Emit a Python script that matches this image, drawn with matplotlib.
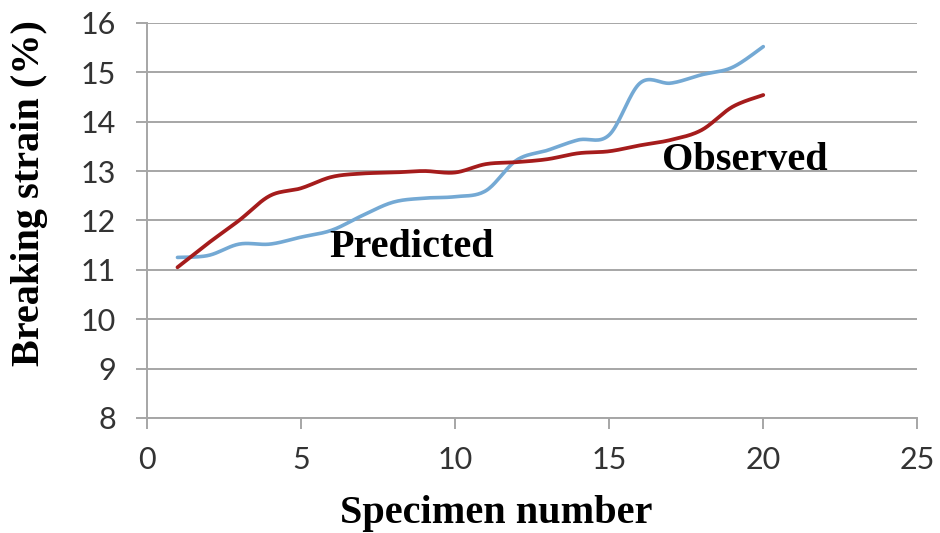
import numpy as np
import matplotlib
matplotlib.use("Agg")
import matplotlib.pyplot as plt

# data
specimen = list(range(1, 21))
observed = [11.05, 11.54, 12.0, 12.5, 12.65, 12.88, 12.95, 12.97, 13.0, 12.97,
            13.14, 13.18, 13.24, 13.36, 13.4, 13.52, 13.63, 13.83, 14.3, 14.54]
predicted = [11.25, 11.29, 11.52, 11.52, 11.66, 11.8, 12.1, 12.37, 12.45, 12.48,
             12.6, 13.22, 13.42, 13.63, 13.73, 14.78, 14.78, 14.95, 15.1, 15.52]
x_ticks = [0, 5, 10, 15, 20, 25]
y_ticks = [8, 9, 10, 11, 12, 13, 14, 15, 16]


def smooth(x, y, n=20):
    # Catmull-Rom curve through the points (like Excel "smoothed line")
    x = np.asarray(x, float)
    y = np.asarray(y, float)
    px = np.concatenate([[x[0]], x, [x[-1]]])
    py = np.concatenate([[y[0]], y, [y[-1]]])
    xs, ys = [], []
    t = np.linspace(0, 1, n, endpoint=False)
    for i in range(1, len(px) - 2):
        for arr, out in ((px, xs), (py, ys)):
            p0, p1, p2, p3 = arr[i - 1], arr[i], arr[i + 1], arr[i + 2]
            out.extend(0.5 * (2 * p1 + (-p0 + p2) * t
                              + (2 * p0 - 5 * p1 + 4 * p2 - p3) * t ** 2
                              + (-p0 + 3 * p1 - 3 * p2 + p3) * t ** 3))
    xs.append(x[-1])
    ys.append(y[-1])
    return np.array(xs), np.array(ys)


fig = plt.figure(figsize=(9.4, 5.33), dpi=100)
ax = fig.add_axes([0.156, 0.216, 0.82, 0.741])

grid_col = "#A6A6A6"
for v in y_ticks:
    ax.axhline(v, color=grid_col, lw=1.4, zorder=1)

sx, sy = smooth(specimen, predicted)
ax.plot(sx, sy, color="#74A9D4", lw=2.6, zorder=3, solid_capstyle="round")
sx, sy = smooth(specimen, observed)
ax.plot(sx, sy, color="#A51C1C", lw=2.7, zorder=3, solid_capstyle="round")

ax.set_xlim(0, 25)
ax.set_ylim(8, 16)
ax.set_xticks(x_ticks)
ax.set_yticks(y_ticks)

for s in ["top", "right"]:
    ax.spines[s].set_visible(False)
for s in ["left", "bottom"]:
    ax.spines[s].set_color(grid_col)
    ax.spines[s].set_linewidth(1.4)

ax.tick_params(axis="both", colors=grid_col, length=8, width=1.4,
               labelcolor="#333333", labelsize=22)
ax.tick_params(axis="y", pad=14)
ax.tick_params(axis="x", pad=12)
for lab in ax.get_xticklabels() + ax.get_yticklabels():
    lab.set_family("Lato")

ax.text(5.93, 11.45, "Predicted", family="Liberation Serif", weight="bold",
        fontsize=29, va="center", ha="left", zorder=4)
ax.text(16.7, 13.22, "Observed", family="Liberation Serif", weight="bold",
        fontsize=29, va="center", ha="left", zorder=4)

ax.set_xlabel("Specimen number", family="Liberation Serif", weight="bold",
              fontsize=29)
ax.set_ylabel("Breaking strain (%)", family="Liberation Serif", weight="bold",
              fontsize=29)
ax.xaxis.set_label_coords(0.454, -0.195)
ax.yaxis.set_label_coords(-0.128, 0.57)

fig.savefig("out.png", dpi=100)
